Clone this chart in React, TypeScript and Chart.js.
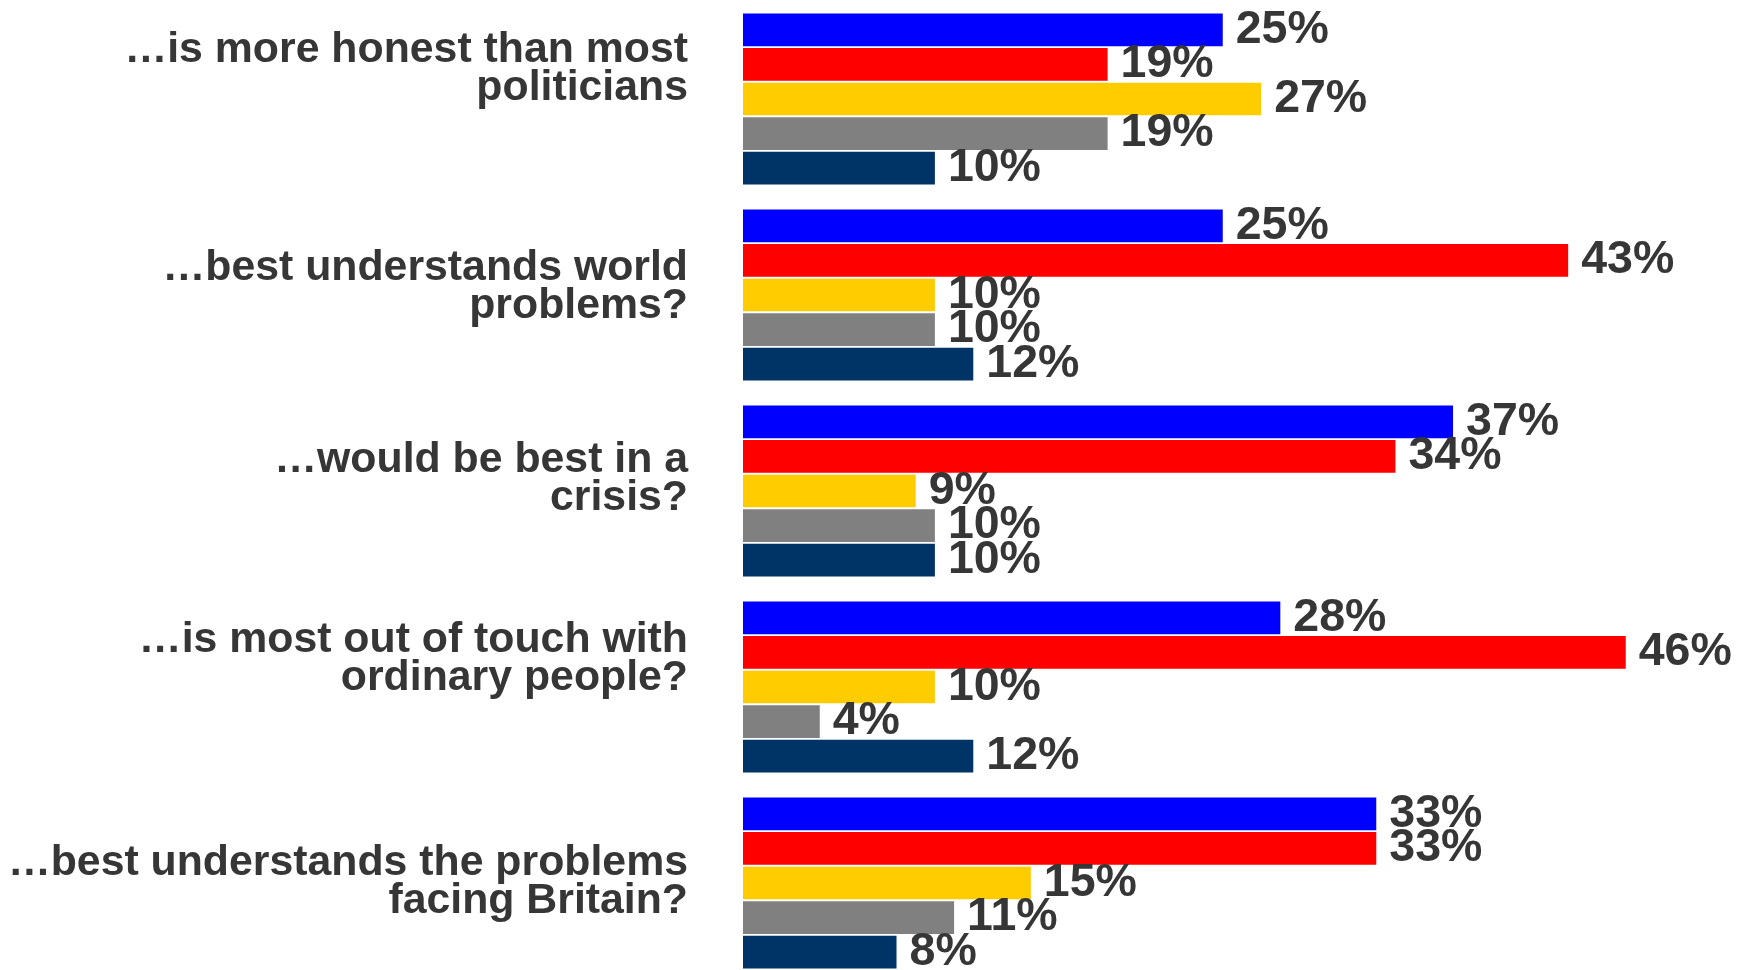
import React, { useEffect, useRef } from "react";
import { Chart, registerables } from "chart.js";

Chart.register(...registerables);

const categories: string[][] = [
  ["…is more honest than most", "politicians"],
  ["…best understands world", "problems?"],
  ["…would be best in a", "crisis?"],
  ["…is most out of touch with", "ordinary people?"],
  ["…best understands the problems", "facing Britain?"],
];

const seriesNames = ["Conservative", "Labour", "Liberal Democrat", "None of them", "Don't know"];
const conservative = [25, 25, 37, 28, 33];
const labour = [19, 43, 34, 46, 33];
const libDem = [27, 10, 9, 10, 15];
const noneOfThem = [19, 10, 10, 4, 11];
const dontKnow = [10, 12, 10, 12, 8];
const seriesColors = ["#0000FF", "#FF0000", "#FFCC00", "#808080", "#003366"];

// Layout-only: vertical nudge (px) of each category's label block from its tick
const LABEL_NUDGE = [-30, -8, -12, -28, -1];

const TEXT_COLOR = "#363636";
const FONT_FAMILY = '"Liberation Sans", Arial, Helvetica, sans-serif';

const valueLabels = {
  id: "valueLabels",
  afterDatasetsDraw(chart: any) {
    const ctx = chart.ctx;
    ctx.save();
    ctx.font = `bold 46.5px ${FONT_FAMILY}`;
    ctx.fillStyle = TEXT_COLOR;
    ctx.textAlign = "left";
    ctx.textBaseline = "middle";
    chart.data.datasets.forEach((ds: any, i: number) => {
      const meta = chart.getDatasetMeta(i);
      meta.data.forEach((bar: any, j: number) => {
        ctx.fillText(`${ds.data[j]}%`, bar.x + 13, bar.y);
      });
    });
    ctx.restore();
  },
};

const tickLabelNudge = {
  id: "tickLabelNudge",
  beforeDraw(chart: any) {
    const scale = chart.scales.y;
    if (!scale) return;
    const items = scale.getLabelItems(chart.chartArea);
    items.forEach((item: any, i: number) => {
      if (!item.__nudged) {
        item.options.translation[1] += LABEL_NUDGE[i] || 0;
        item.__nudged = true;
      }
    });
  },
};

export default function App() {
  const canvasRef = useRef<HTMLCanvasElement | null>(null);

  useEffect(() => {
    const canvas = canvasRef.current;
    if (!canvas) return;
    const allSeries = [conservative, labour, libDem, noneOfThem, dontKnow];
    const chart = new Chart(canvas, {
      type: "bar",
      data: {
        labels: categories,
        datasets: allSeries.map((values, i) => ({
          label: seriesNames[i],
          data: values,
          backgroundColor: seriesColors[i],
          borderWidth: 0,
          barPercentage: 0.948,
          categoryPercentage: 0.881,
        })),
      },
      options: {
        indexAxis: "y",
        responsive: false,
        animation: false,
        layout: { autoPadding: false, padding: { top: 1, right: 34.5, bottom: 0, left: 0 } },
        plugins: {
          legend: { display: false },
          tooltip: { enabled: false },
        },
        scales: {
          x: {
            display: false,
            min: 0,
            max: 50,
          },
          y: {
            type: "category",
            grid: { display: false, drawTicks: false },
            border: { display: false },
            ticks: {
              autoSkip: false,
              color: TEXT_COLOR,
              padding: 55,
              font: { family: FONT_FAMILY, size: 42.8, weight: "bold", lineHeight: 0.9 },
            },
            afterFit(scale: any) {
              scale.width = 743;
              scale.paddingTop = 0;
              scale.paddingBottom = 0;
            },
          },
        },
      },
      plugins: [tickLabelNudge, valueLabels],
    } as any);
    return () => chart.destroy();
  }, []);

  return (
    <div
      style={{
        position: "fixed",
        top: 0,
        left: 0,
        width: 1737,
        height: 970,
        overflow: "hidden",
        background: "#ffffff",
      }}
    >
      <canvas ref={canvasRef} width={1737} height={981} style={{ display: "block" }} />
    </div>
  );
}
